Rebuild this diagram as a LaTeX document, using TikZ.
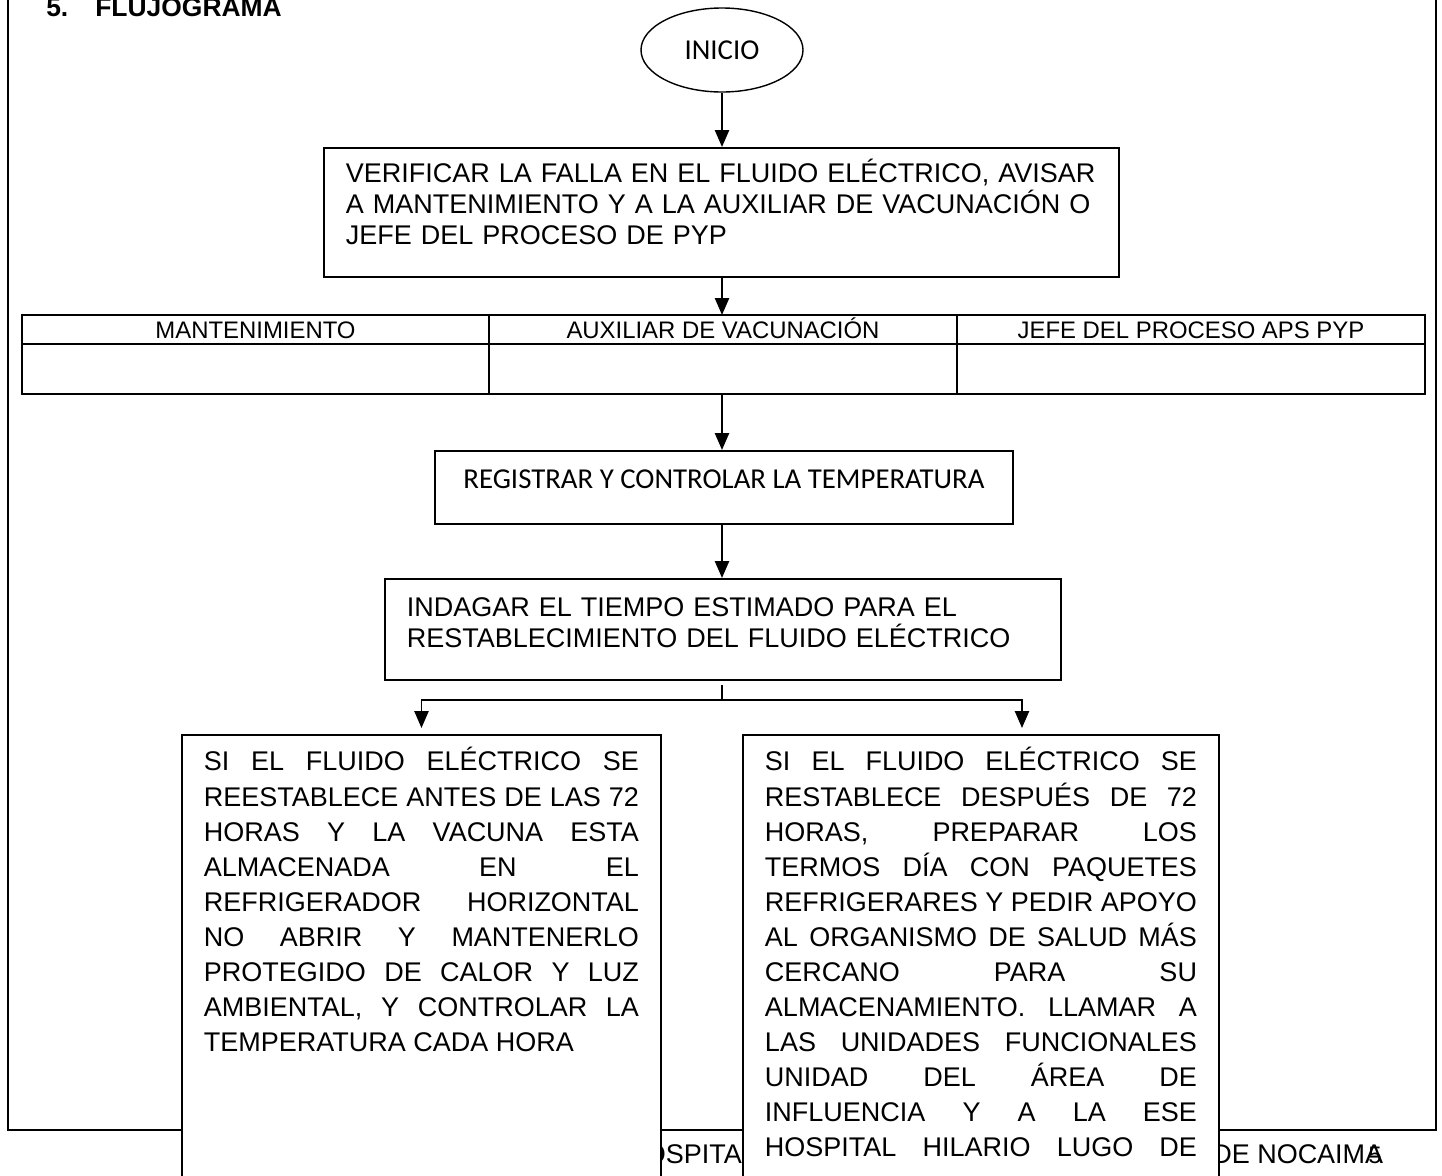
\documentclass[tikz,border=0pt]{standalone}
\usepackage{fontspec}
\setmainfont{Liberation Sans}
\newfontfamily\calibri{Carlito}
\usepackage{tikz}
\usetikzlibrary{arrows.meta,shapes,positioning}
\tikzstyle{caja} = [rectangle, anchor=north west, align=left, draw=black, fill=white, line width=1.4pt, inner xsep=0.55cm, inner ysep=0pt, font=\fontsize{19.2pt}{22pt}\selectfont]
\tikzstyle{celda} = [rectangle, anchor=north west, draw=black, line width=0.7pt, inner sep=0pt, text height=12.2pt, text depth=0pt, font=\fontsize{17pt}{20pt}\selectfont]
\tikzstyle{pie} = [anchor=base west, inner sep=0pt, font=\fontsize{19.2pt}{22pt}\selectfont]
\tikzstyle{arrow} = [line width=1.4pt, -{Triangle[length=12pt,width=10pt]}]
\tikzstyle{linea} = [line width=1.4pt]
\newlength{\anchotexto}
\newcommand{\jline}[1]{\makebox[\anchotexto][s]{\spaceskip=0pt\xspaceskip=0pt #1}\\}

\begin{document}
\begin{tikzpicture}
\useasboundingbox (0,0) rectangle (36.05,-29.375);
\clip (0,0) rectangle (36.05,-29.375);

% Page frame and footer
\draw[line width=1.8pt] (0.2,0.5) -- (0.2,-28.25) -- (35.9,-28.25) -- (35.9,0.5);
\node[pie] (pie1) at (15.625,-29.075) {HOSPITAL};
\node[pie] (pie2) at (30.3,-29.075) {DE NOCAIMA};
\node[pie, font=\fontsize{17pt}{18pt}\selectfont] (pagina) at (34.2,-29.075) {5};

% Title
\node[anchor=base west, inner sep=0pt, font=\fontsize{18.8pt}{20pt}\selectfont\bfseries] (titulo) at (1.15,-0.42) {5.\hspace{0.675cm}FLUJOGRAMA};

% Main column
\coordinate (eje) at (18.05,0);
\node[ellipse, draw=black, line width=1pt, minimum width=4.05cm, minimum height=2.1cm, inner sep=0pt, font=\calibri\fontsize{20.5pt}{22pt}\selectfont] (inicio) at (18.05,-1.25) {INICIO};
\node[caja, text width=18.775cm, text height=0.875cm, text depth=2.35cm] (verificar) at (8.075,-3.675) {VERIFICAR LA FALLA EN EL FLUIDO ELÉCTRICO, AVISAR\\
A MANTENIMIENTO Y A LA AUXILIAR DE VACUNACIÓN O\\
JEFE DEL PROCESO DE PYP};

% Table of responsible people
\node[celda, minimum width=11.65cm, minimum height=0.7cm] (mant) at (0.55,-7.875) {MANTENIMIENTO};
\node[celda, minimum width=11.675cm, minimum height=0.7cm] (aux) at (mant.north east) {AUXILIAR DE VACUNACIÓN};
\node[celda, minimum width=11.675cm, minimum height=0.7cm] (jefe) at (aux.north east) {JEFE DEL PROCESO APS PYP};
\node[celda, minimum width=11.65cm, minimum height=1.225cm] (mantB) at (mant.south west) {};
\node[celda, minimum width=11.675cm, minimum height=1.225cm] (auxB) at (aux.south west) {};
\node[celda, minimum width=11.675cm, minimum height=1.225cm] (jefeB) at (jefe.south west) {};
\draw[line width=1.4pt] (mant.north west) rectangle (jefeB.south east);

\node[caja, minimum width=14.45cm, text height=0.95cm, text depth=0.875cm, font=\calibri\fontsize{20.5pt}{22pt}\selectfont] (registrar) at (10.85,-11.25) {REGISTRAR Y CONTROLAR LA TEMPERATURA};
\node[caja, text width=15.8cm, text height=0.95cm, text depth=1.575cm] (indagar) at (9.6,-14.45) {INDAGAR EL TIEMPO ESTIMADO PARA EL\\
RESTABLECIMIENTO DEL FLUIDO ELÉCTRICO};

% Two cases
\node[caja, align=justify, text width=10.875cm, text height=0.9cm, text depth=12cm, font=\fontsize{19.2pt}{24.9pt}\selectfont] (antes) at (4.525,-18.35) {\setlength{\anchotexto}{10.875cm}%
\jline{SI EL FLUIDO ELÉCTRICO SE}
\jline{REESTABLECE ANTES DE LAS 72}
\jline{HORAS Y LA VACUNA ESTA}
\jline{ALMACENADA EN EL}
\jline{REFRIGERADOR HORIZONTAL}
\jline{NO ABRIR Y MANTENERLO}
\jline{PROTEGIDO DE CALOR Y LUZ}
\jline{AMBIENTAL, Y CONTROLAR LA}
TEMPERATURA CADA HORA};
\node[caja, align=justify, text width=10.8cm, text height=0.9cm, text depth=12cm, font=\fontsize{19.2pt}{24.9pt}\selectfont] (despues) at (18.55,-18.35) {\setlength{\anchotexto}{10.8cm}%
\jline{SI EL FLUIDO ELÉCTRICO SE}
\jline{RESTABLECE DESPUÉS DE 72}
\jline{HORAS, PREPARAR LOS}
\jline{TERMOS DÍA CON PAQUETES}
\jline{REFRIGERARES Y PEDIR APOYO}
\jline{AL ORGANISMO DE SALUD MÁS}
\jline{CERCANO PARA SU}
\jline{ALMACENAMIENTO. LLAMAR A}
\jline{LAS UNIDADES FUNCIONALES}
\jline{UNIDAD DEL ÁREA DE}
\jline{INFLUENCIA Y A LA ESE}
\makebox[\anchotexto][s]{\spaceskip=0pt\xspaceskip=0pt HOSPITAL HILARIO LUGO DE}};

% Connections
\coordinate (rama) at (18.05,-17.5);
\draw[arrow] (inicio.south) -- (eje |- verificar.north);
\draw[arrow] (eje |- verificar.south) -- (eje |- aux.north);
\draw[arrow] (eje |- auxB.south) -- (eje |- registrar.north);
\draw[arrow] (eje |- registrar.south) -- (eje |- indagar.north);
\draw[linea, shorten <=0.1cm] (eje |- indagar.south) -- (rama);
\draw[arrow, shorten >=0.15cm] (rama) -| (antes.north);
\draw[arrow, shorten >=0.15cm] (rama) -| ([xshift=1.025cm]despues.north);
\end{tikzpicture}
\end{document}
